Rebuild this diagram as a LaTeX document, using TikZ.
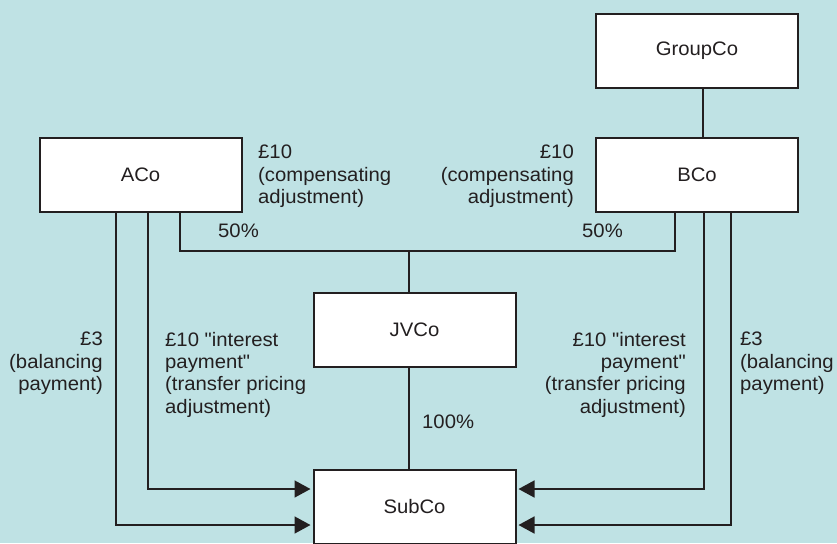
\documentclass[tikz,border=0pt]{standalone}
\usepackage{fontspec}
\setmainfont{Liberation Sans}[FakeStretch=1.04, Ligatures=TeXOff]
\usetikzlibrary{arrows.meta}
\definecolor{bgc}{HTML}{BFE2E4}
\definecolor{ink}{HTML}{231F20}
\begin{document}
\begin{tikzpicture}[x=1pt,y=-1pt,
  every node/.style={font=\fontsize{19.5}{22.3}\selectfont, text=ink},
  entity/.style={draw=ink, fill=white, line width=2pt, minimum width=202pt, minimum height=74pt, inner sep=0pt},
  lbl/.style={inner sep=0pt},
  link/.style={draw=ink, line width=1.6pt},
  arr/.style={link, -{Triangle[length=16pt,width=17pt]}}]
\useasboundingbox[fill=bgc] (0,0) rectangle (837,543);
% entities
\node[entity] (GroupCo) at (697,51) {GroupCo};
\node[entity] (ACo) at (140.5,175) {ACo};
\node[entity] (BCo) at (697,175) {BCo};
\node[entity] (JVCo) at (414.5,329.5) {JVCo};
\node[entity] (SubCo) at (414.5,507) {SubCo};
\coordinate (J) at (409,251);
% ownership lines
\draw[link] (GroupCo.south -| 703,0) -- (BCo.north -| 703,0);
\draw[link] ([xshift=39.5pt]ACo.south) |- (J) -| ([xshift=-22pt]BCo.south);
\draw[link] (J) -- (JVCo.north -| J);
\draw[link] (JVCo.south -| J) -- (SubCo.north -| J);
% payment arrows
\draw[arr] ([xshift=7.5pt]ACo.south) |- ([yshift=18pt,xshift=-2pt]SubCo.west);
\draw[arr] ([xshift=-24.5pt]ACo.south) |- ([yshift=-18pt,xshift=-2pt]SubCo.west);
\draw[arr] ([xshift=7pt]BCo.south) |- ([yshift=18pt,xshift=2pt]SubCo.east);
\draw[arr] ([xshift=34pt]BCo.south) |- ([yshift=-18pt,xshift=2pt]SubCo.east);
% labels
\node[lbl, anchor=north west, align=left] (compL) at (258,145) {£10\\(compensating\\adjustment)};
\node[lbl, anchor=north east, align=right] (compR) at (574,145) {£10\\(compensating\\adjustment)};
\node[lbl, anchor=base west] (pctL) at (218,237) {50\%};
\node[lbl, anchor=base west] (pctR) at (582,237) {50\%};
\node[lbl, anchor=base west] (pctS) at (422,428) {100\%};
\node[lbl, anchor=north east, align=right] (balL) at (103,332) {£3\\(balancing\\payment)};
\node[lbl, anchor=north west, align=left] (intL) at (165,332) {£10 "interest\\payment"\\(transfer pricing\\adjustment)};
\node[lbl, anchor=north east, align=right] (intR) at (686,332) {£10 "interest\\payment"\\(transfer pricing\\adjustment)};
\node[lbl, anchor=north west, align=left] (balR) at (740,332) {£3\\(balancing\\payment)};
\end{tikzpicture}
\end{document}
